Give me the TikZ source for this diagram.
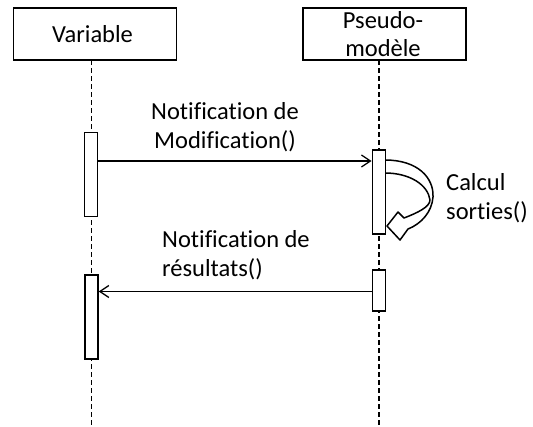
\documentclass[tikz,border=0pt]{standalone}
\usepackage{fontspec}
\setmainfont{Carlito}[Ligatures=NoCommon]
\usetikzlibrary{arrows.meta}

\tikzset{
  lbl/.style={inner sep=0pt, font=\fontsize{24.5}{29}\selectfont},
  objbox/.style={draw, line width=1.8pt, minimum width=163pt, minimum height=52pt, inner sep=0pt, fill=white},
  actbox/.style={draw, line width=1.8pt, fill=white, minimum width=13pt, inner sep=0pt},
  lifeline/.style={line width=1.1pt, dash pattern=on 5pt off 3pt},
  msg/.style={line width=1.3pt, -{Straight Barb[length=9pt, width=12pt, line width=1.3pt]}},
  selfarrow/.style={draw, line width=1.5pt, fill=white, line join=round},
}

\begin{document}
\begin{tikzpicture}[x=1pt, y=-1pt]
  \useasboundingbox (0,0) rectangle (533,426);

  % objects
  \node[objbox] (var) at (95,34) {};
  \node[lbl, anchor=base] (varlabel) at (92.5,42.5) {Variable};
  \node[objbox] (pm) at (384.5,34) {};
  \node[lbl, align=center, font=\fontsize{24.5}{28}\selectfont] (pmlabel) at (383,34.5) {Pseudo-\\modèle};

  % lifelines
  \coordinate (vtop) at (91.5,60);
  \coordinate (vbot) at (91.5,426);
  \coordinate (ptop) at (379,60);
  \coordinate (pbot) at (379,426);
  \draw[lifeline] (vtop) -- (vbot);
  \draw[lifeline] (ptop) -- (pbot);

  % self call
  \path[selfarrow] (385,160)
      .. controls (418,160) and (434,178) .. (433,197)
      .. controls (432,212) and (421,224) .. (408,229)
      -- (400,240) -- (387,226) -- (398,212) -- (404,218)
      .. controls (417,213) and (430,207) .. (430,200)
      .. controls (428,185) and (410,173) .. (385,173) -- cycle;

  % activations
  \node[actbox, minimum height=84pt] (act1) at (91,174.5) {};
  \node[actbox, minimum height=84pt] (act2) at (379,192) {};
  \node[actbox, minimum height=41pt] (act3) at (379,290.5) {};
  \node[actbox, minimum height=84pt] (act4) at (91.3,317) {};

  % messages
  \coordinate (m1) at (0,161);
  \coordinate (m2) at (0,291.5);
  \draw[msg] (act1.east |- m1) -- (act2.west |- m1);
  \draw[msg] (act3.west |- m2) -- (act4.east |- m2);

  % labels
  \node[lbl, align=center] (m1label) at (225,127) {Notification de\\Modification()};
  \node[lbl, align=left, anchor=west] (selflabel) at (446,198) {Calcul\\sorties()};
  \node[lbl, align=left, anchor=west] (m2label) at (162,255) {Notification de\\résultats()};
\end{tikzpicture}
\end{document}
